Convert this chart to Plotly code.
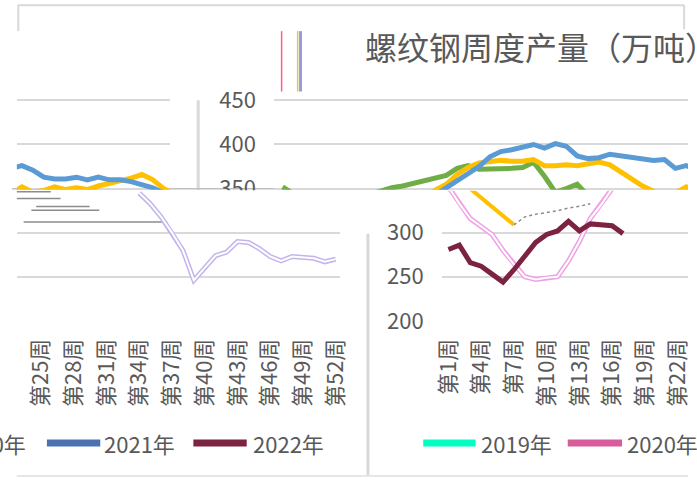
import plotly.graph_objects as go

W, H = 697, 491
FONT = "Noto Sans CJK SC"
GRAY = "#595959"
GRID = "#d9d9d9"

# ---------------- data (万吨, by week) ----------------
title_text = "螺纹钢周度产量（万吨）"

# upper band series
blue_weeks = list(range(14, 53))
blue_vals = [335, 343, 352, 359, 367, 375, 386, 392, 394, 397, 400, 396, 401, 398,
             387, 384, 385, 389, 387, 386, 384, 382, 383, 373, 376, 371, 363, 361,
             361, 363, 360, 363, 360, 360, 358, 354, 351, 345, 342]

yellow_weeks = list(range(13, 53))
yellow_vals = [335, 342, 348, 355, 366, 374, 379, 381, 382, 381, 381, 383, 376, 376,
               377, 376, 378, 380, 377, 369, 360, 353, 347, 340, 345, 352, 346, 348,
               352, 349, 351, 349, 353, 356, 358, 362, 366, 360, 350, 344]

green_weeks = list(range(1, 31))
green_vals = [352, 344, 340, 338, 336, 335, 336, 340, 344, 348, 351, 353, 356, 359,
              361, 365, 373, 376, 372, 372, 372, 373, 374, 380, 364, 346, 350, 355,
              342, 335]

# lower band series
y2022_weeks = list(range(1, 18))
y2022_vals = [281, 286, 266, 262, 253, 244, 258, 273, 289, 298, 302, 313, 302, 310,
              309, 308, 299]

pink_weeks = list(range(1, 17))
pink_vals = [352, 333, 316, 307, 298, 280, 264, 250, 247, 249, 250, 268, 290, 316,
             332, 350]

pale_weeks = list(range(34, 53))
pale_vals = [345, 333, 318, 300, 280, 246, 260, 274, 278, 290, 289, 282, 273, 268,
             273, 272, 271, 267, 270]

ybot_weeks = [3, 4, 5, 6, 7]
ybot_vals = [350, 340, 330, 320, 309]

gbot_weeks = [7, 8, 9, 10, 11, 12, 13, 14]
gbot_vals = [309, 318, 321, 323, 325, 328, 330, 333]

# ticks
right_tick_weeks = [1, 4, 7, 10, 13, 16, 19, 22]
left_tick_weeks = [25, 28, 31, 34, 37, 40, 43, 46, 49, 52]
upper_ticks = [350, 400, 450]
lower_ticks = [200, 250, 300]

legend_names = ["2021年", "2022年", "2019年", "2020年"]
legend_colors = ["#4a72b0", "#7b2340", "#00ffc0", "#d65c9b"]


def fx(px):
    return px / W


def fy(py):
    return 1 - py / H


fig = go.Figure()


def line(xs, ys, color, width, axis, dash=None):
    fig.add_trace(go.Scatter(x=xs, y=ys, mode="lines",
                             line=dict(color=color, width=width, dash=dash),
                             xaxis="x" + axis, yaxis="y" + axis,
                             hoverinfo="skip", showlegend=False))


# upper band: right panel (axis ""), left panel ("2")
for ax in ["", "2"]:
    line(green_weeks, green_vals, "#70ad47", 5, ax)
    line(yellow_weeks, yellow_vals, "#ffc000", 5, ax)
    line(blue_weeks, blue_vals, "#5b9bd5", 5, ax)

# lower band: right panel ("3"), left panel ("4")
for ax in ["3", "4"]:
    line(ybot_weeks, ybot_vals, "#ffc000", 4, ax)
    line(gbot_weeks, gbot_vals, "#8c8c8c", 1.5, ax, dash="dot")
    line(pink_weeks, pink_vals, "#f0a0e4", 5, ax)
    line(pink_weeks, pink_vals, "#ffffff", 2, ax)
    line(pale_weeks, pale_vals, "#c4b4ec", 5, ax)
    line(pale_weeks, pale_vals, "#ffffff", 2, ax)
    line(y2022_weeks, y2022_vals, "#7b2340", 5, ax)

tickfont = dict(family=FONT, size=22, color=GRAY)
common_x = dict(showgrid=False, zeroline=False, showline=False)
upper_y = dict(range=[348.68, 530.4], tickvals=upper_ticks, showgrid=True,
               gridcolor=GRID, gridwidth=2, zeroline=False, showline=False,
               domain=[fy(195), fy(30)], tickfont=tickfont)
lower_y = dict(range=[199.5, 347.58], tickvals=lower_ticks, showgrid=True,
               gridcolor=GRID, gridwidth=2, zeroline=False, showline=False,
               domain=[fy(330), fy(196)], tickfont=tickfont)

fig.update_layout(
    width=W, height=H, margin=dict(l=0, r=0, t=0, b=0),
    paper_bgcolor="white", plot_bgcolor="rgba(0,0,0,0)", showlegend=False,
    font=dict(family=FONT, color=GRAY),
    xaxis=dict(domain=[fx(270), 1], range=[0.2, 38.156], anchor="y",
               showticklabels=False, **common_x),
    yaxis=dict(anchor="x", ticklabelstandoff=17, **upper_y),
    xaxis2=dict(domain=[fx(5), fx(163)], range=[37.533, 51.578], anchor="y2",
                showticklabels=False, **common_x),
    yaxis2=dict(anchor="x2", showticklabels=False, **upper_y),
    xaxis3=dict(domain=[fx(443), 1], range=[0.378, 22.956], anchor="y3",
                tickmode="array", tickvals=right_tick_weeks,
                ticktext=[f"第{w}周" for w in right_tick_weeks],
                tickangle=-90, tickfont=tickfont, ticklabelstandoff=12, **common_x),
    yaxis3=dict(anchor="x3", ticklabelstandoff=17, **lower_y),
    xaxis4=dict(domain=[fx(5), fx(338)], range=[22.778, 52.378], anchor="y4",
                tickmode="array", tickvals=left_tick_weeks,
                ticktext=[f"第{w}周" for w in left_tick_weeks],
                tickangle=-90, tickfont=tickfont, ticklabelstandoff=12, **common_x),
    yaxis4=dict(anchor="x4", showticklabels=False, **lower_y),
)

shapes = []


def seg(x0, y0, x1, y1, color, width, layer="below"):
    shapes.append(dict(type="line", xref="paper", yref="paper",
                       x0=fx(x0), y0=fy(y0), x1=fx(x1), y1=fy(y1),
                       line=dict(color=color, width=width), layer=layer))


# chart frame fragments
seg(6, 5.5, 693, 5.5, GRID, 2)
seg(6.5, 5, 6.5, 32, GRID, 2)
seg(693, 5, 693, 30, GRID, 2)
seg(192, 103, 192, 195, GRID, 3)
seg(367, 240, 367, 489, GRID, 3)
seg(5, 489, 697, 489, "#e6e6e6", 2)
seg(0, 194, 697, 194, "#bfbfbf", 1.5)
# stray marks at top
seg(278, 32, 278, 94, "#ff6080", 1.5)
seg(294.5, 32, 294.5, 94, "#d8cc50", 1.5)
seg(297.5, 32, 297.5, 94, "#9a9ae0", 3)
# gridline fragments in the broken strip
for (a, b, yy) in [(5, 40, 197), (5, 50, 204), (25, 80, 212), (20, 90, 216), (12, 160, 228)]:
    seg(a, yy, b, yy, "#8c8c8c", 1.5)

# mask covering lower half of the "350" label
shapes.append(dict(type="rect", xref="paper", yref="paper",
                   x0=fx(200), x1=fx(265), y0=fy(212), y1=fy(195.5),
                   fillcolor="white", line=dict(width=0), layer="above"))

# legend swatches
sw = [(36, 91), (187, 242), (424, 478), (573, 629)]
txt_x = [93, 246, 481, 632]
for (a, b), c in zip(sw, legend_colors):
    seg(a, 455, b, 455, c, 7, layer="above")
fig.update_layout(shapes=shapes)

ann = []
for name, x in zip(legend_names, txt_x):
    ann.append(dict(text=name, x=fx(x), y=fy(455), xref="paper", yref="paper",
                    xanchor="left", yanchor="middle", showarrow=False,
                    font=dict(family=FONT, size=22, color=GRAY)))
ann.append(dict(text="2020年", x=fx(17), y=fy(455), xref="paper", yref="paper",
                xanchor="right", yanchor="middle", showarrow=False,
                font=dict(family=FONT, size=22, color=GRAY)))
ann.append(dict(text=title_text, x=fx(362), y=fy(47), xref="paper", yref="paper",
                xanchor="left", yanchor="middle", showarrow=False,
                font=dict(family=FONT, size=32, color=GRAY)))
fig.update_layout(annotations=ann)

fig.write_html(
    "out.html",
    config={"displayModeBar": False},
    post_script=("document.body.style.margin='0';"
                 "document.body.style.overflow='hidden';"
                 "document.documentElement.style.overflow='hidden';"),
)
